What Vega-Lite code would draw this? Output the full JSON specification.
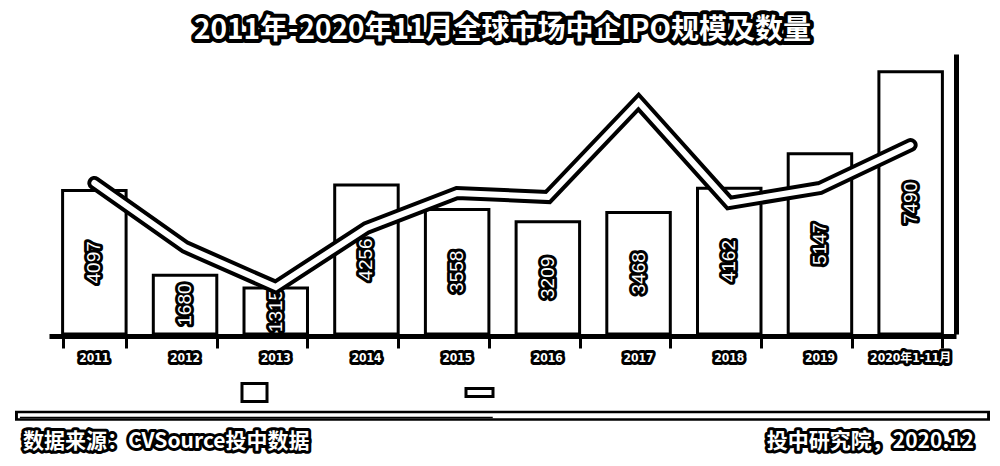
{
  "$schema": "https://vega.github.io/schema/vega-lite/v6.json",
  "padding": {"left": 10, "right": 15, "top": 0, "bottom": 0},
  "background": "white",
  "config": {"view": {"stroke": null}},
  "spacing": 0,
  "bounds": "flush",
  "center": true,
  "vconcat": [
    {
      "width": 975,
      "height": 54,
      "data": {"values": [{"title": "2011年-2020年11月全球市场中企IPO规模及数量"}]},
      "layer": [
        {"mark": {"type": "text", "font": "Noto Sans CJK SC", "fontSize": 28, "fontWeight": "bold", "fill": "black", "stroke": "black", "strokeWidth": 8, "strokeJoin": "round", "dy": 4},
         "encoding": {"text": {"field": "title"}}},
        {"mark": {"type": "text", "font": "Noto Sans CJK SC", "fontSize": 28, "fontWeight": "bold", "fill": "white", "dy": 4},
         "encoding": {"text": {"field": "title"}}}
      ]
    },
    {
      "width": 907,
      "height": 280,
      "data": {"values": [
        {"year": "2011", "amount": 4097, "count": 755},
        {"year": "2012", "amount": 1680, "count": 435},
        {"year": "2013", "amount": 1315, "count": 235},
        {"year": "2014", "amount": 4256, "count": 530},
        {"year": "2015", "amount": 3558, "count": 705},
        {"year": "2016", "amount": 3209, "count": 685},
        {"year": "2017", "amount": 3468, "count": 1160},
        {"year": "2018", "amount": 4162, "count": 655},
        {"year": "2019", "amount": 5147, "count": 730},
        {"year": "2020年1-11月", "amount": 7490, "count": 945}
      ]},
      "encoding": {
        "x": {"field": "year", "type": "nominal", "sort": null,
              "scale": {"paddingInner": 0.3, "paddingOuter": 0.15},
              "axis": {"title": null, "labels": false, "grid": false, "domainColor": "black", "domainWidth": 5,
                       "tickColor": "black", "tickWidth": 3, "tickSize": 12, "tickBand": "extent", "offset": 2}}
      },
      "layer": [
        {"mark": {"type": "bar", "stroke": "black", "strokeWidth": 3},
         "encoding": {
           "y": {"field": "amount", "type": "quantitative", "scale": {"domain": [0, 8000], "nice": false}, "axis": null},
           "fill": {"datum": "规模", "scale": {"range": ["white"]},
                    "legend": {"title": null, "orient": "none", "legendX": 229, "legendY": 382, "labelExpr": "''",
                               "symbolType": "M-1.39,-1H1.39V1H-1.39Z", "symbolSize": 324, "symbolStrokeColor": "black",
                               "symbolStrokeWidth": 3, "symbolFillColor": "white", "padding": 0}}
         }},
        {"mark": {"type": "text", "angle": 270, "font": "Liberation Sans", "fontSize": 19, "fill": "black", "stroke": "black", "strokeWidth": 6, "strokeJoin": "round"},
         "encoding": {
           "y": {"field": "amount", "type": "quantitative", "scale": {"domain": [0, 16000], "nice": false}, "axis": null},
           "text": {"field": "amount", "type": "quantitative", "format": "d"}
         }},
        {"mark": {"type": "text", "angle": 270, "font": "Liberation Sans", "fontSize": 19, "fill": "white"},
         "encoding": {
           "y": {"field": "amount", "type": "quantitative", "scale": {"domain": [0, 16000], "nice": false}, "axis": null},
           "text": {"field": "amount", "type": "quantitative", "format": "d"}
         }},
        {"mark": {"type": "line", "strokeWidth": 14, "strokeJoin": "miter", "strokeCap": "round"},
         "encoding": {
           "y": {"field": "count", "type": "quantitative", "scale": {"domain": [0, 1400], "nice": false},
                 "axis": {"orient": "right", "title": null, "labels": false, "ticks": false, "grid": false,
                          "domain": true, "domainColor": "black", "domainWidth": 5}},
           "stroke": {"datum": "数量", "scale": {"range": ["black"]},
                      "legend": {"title": null, "orient": "none", "legendX": 459, "legendY": 387, "labelExpr": "''",
                                 "symbolType": "M-3.375,-1H3.375V1H-3.375Z", "symbolSize": 64, "symbolStrokeColor": "black",
                                 "symbolStrokeWidth": 3, "symbolFillColor": "white", "padding": 0}}
         }},
        {"mark": {"type": "line", "strokeWidth": 6, "strokeJoin": "miter", "strokeCap": "round", "stroke": "white"},
         "encoding": {
           "y": {"field": "count", "type": "quantitative", "scale": {"domain": [0, 1400], "nice": false}, "axis": null}
         }},
        {"mark": {"type": "text", "font": "DejaVu Sans Condensed, Noto Sans CJK SC", "fontSize": 12, "fontWeight": "bold", "fill": "black", "stroke": "black", "strokeWidth": 6, "strokeJoin": "round", "dy": 24},
         "encoding": {
           "y": {"datum": 0, "scale": {"domain": [0, 1], "nice": false}, "axis": null},
           "text": {"field": "year"}
         }},
        {"mark": {"type": "text", "font": "DejaVu Sans Condensed, Noto Sans CJK SC", "fontSize": 12, "fontWeight": "bold", "fill": "white", "dy": 24},
         "encoding": {
           "y": {"datum": 0, "scale": {"domain": [0, 1], "nice": false}, "axis": null},
           "text": {"field": "year"}
         }}
      ],
      "resolve": {"scale": {"y": "independent"}}
    },
    {
      "width": 975,
      "height": 132,
      "data": {"values": [{"source": "数据来源：CVSource投中数据", "credit": "投中研究院，2020.12"}]},
      "layer": [
        {"mark": {"type": "rule", "stroke": "black", "strokeWidth": 10, "strokeCap": "butt"},
         "encoding": {
           "x": {"datum": 0, "scale": {"domain": [0, 1], "nice": false, "zero": false}, "axis": null},
           "x2": {"datum": 1},
           "y": {"datum": 3.8, "scale": {"domain": [0, 10], "nice": false}, "axis": null}
         }},
        {"mark": {"type": "rule", "stroke": "white", "strokeWidth": 5, "strokeCap": "butt"},
         "encoding": {
           "x": {"datum": 0.003},
           "x2": {"datum": 0.997},
           "y": {"datum": 3.8}
         }},
        {"mark": {"type": "rule", "stroke": "black", "strokeWidth": 1.5, "strokeCap": "butt"},
         "encoding": {
           "x": {"datum": 0.005},
           "x2": {"datum": 0.49},
           "y": {"datum": 3.68}
         }},
        {"mark": {"type": "text", "align": "left", "font": "Noto Sans CJK SC", "fontSize": 21, "fontWeight": "bold", "fill": "black", "stroke": "black", "strokeWidth": 6, "strokeJoin": "round", "dx": 8},
         "encoding": {"x": {"datum": 0}, "y": {"datum": 1.8}, "text": {"field": "source"}}},
        {"mark": {"type": "text", "align": "left", "font": "Noto Sans CJK SC", "fontSize": 21, "fontWeight": "bold", "fill": "white", "dx": 8},
         "encoding": {"x": {"datum": 0}, "y": {"datum": 1.8}, "text": {"field": "source"}}},
        {"mark": {"type": "text", "align": "right", "font": "Noto Sans CJK SC", "fontSize": 21, "fontWeight": "bold", "fill": "black", "stroke": "black", "strokeWidth": 6, "strokeJoin": "round", "dx": -16},
         "encoding": {"x": {"datum": 1}, "y": {"datum": 1.8}, "text": {"field": "credit"}}},
        {"mark": {"type": "text", "align": "right", "font": "Noto Sans CJK SC", "fontSize": 21, "fontWeight": "bold", "fill": "white", "dx": -16},
         "encoding": {"x": {"datum": 1}, "y": {"datum": 1.8}, "text": {"field": "credit"}}}
      ]
    }
  ]
}
